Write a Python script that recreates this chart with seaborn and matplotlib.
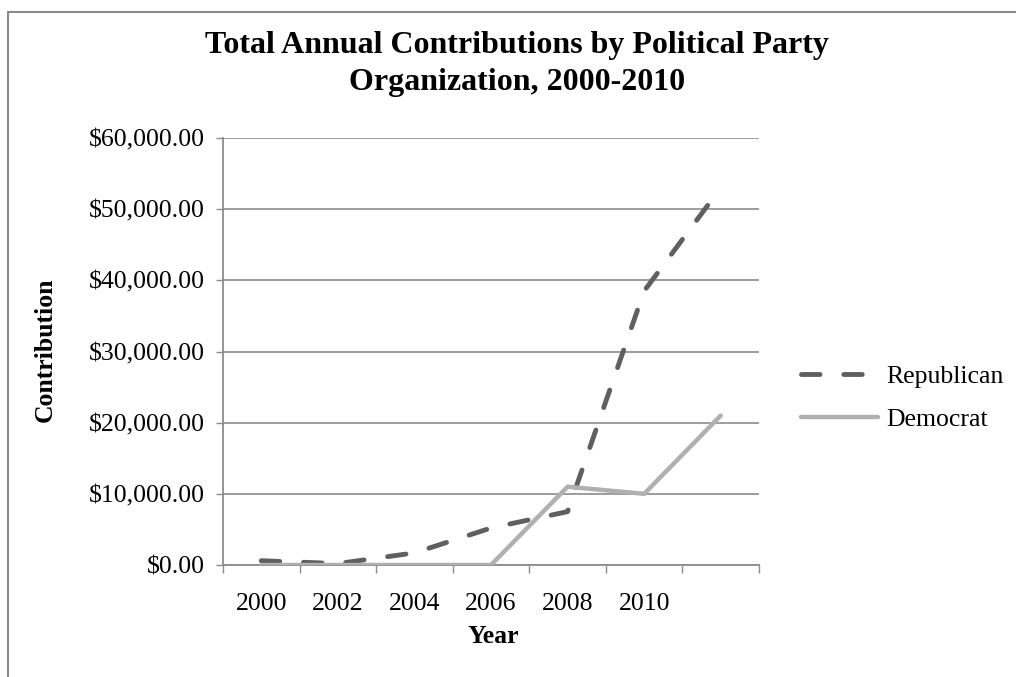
import matplotlib
matplotlib.use("Agg")
import matplotlib.pyplot as plt
import pandas as pd
import seaborn as sns
from matplotlib.lines import Line2D
from matplotlib.ticker import FixedLocator, FuncFormatter

# Data (7 categories, last one has no label)
year_labels = ['2000', '2002', '2004', '2006', '2008', '2010', '']
republican = [600, 200, 1700, 5200, 7500, 38500, 53000]
democrat = [0, 0, 0, 0, 11000, 10000, 21000]

df = pd.DataFrame({
    'pos': list(range(len(year_labels))) * 2,
    'Contribution': republican + democrat,
    'Party': ['Republican'] * len(year_labels) + ['Democrat'] * len(year_labels),
})

sns.set_theme(style='white')
plt.rcParams['font.family'] = ['Liberation Serif', 'DejaVu Serif']
plt.rcParams['text.color'] = 'black'

rep_color = '#5f5f5f'
dem_color = '#b0b0b0'
grid_color = '#8c8c8c'
fs = 18.5

fig = plt.figure(figsize=(10.16, 6.77), dpi=100)
ax = fig.add_axes([223 / 1016, 1 - 565 / 677, (759 - 223) / 1016, (565 - 138) / 677])

sns.lineplot(data=df[df.Party == 'Republican'], x='pos', y='Contribution', ax=ax,
             color=rep_color, linewidth=3.5, linestyle=(0, (3.8, 4.9)),
             dash_capstyle='round', solid_capstyle='round', zorder=3)
sns.lineplot(data=df[df.Party == 'Democrat'], x='pos', y='Contribution', ax=ax,
             color=dem_color, linewidth=3.2, solid_capstyle='round', zorder=4)

ax.set_xlim(-0.5, len(year_labels) - 0.5)
ax.set_ylim(0, 60000)
ax.set_yticks(range(0, 60001, 10000))
ax.yaxis.set_major_formatter(FuncFormatter(lambda v, p: '${:,.2f}'.format(v)))

# tick marks between categories, labels at category centers
ax.xaxis.set_major_locator(FixedLocator([i - 0.5 for i in range(len(year_labels) + 1)]))
ax.xaxis.set_minor_locator(FixedLocator(list(range(len(year_labels)))))
ax.set_xticklabels([])
ax.set_xticklabels(year_labels, minor=True)
ax.tick_params(axis='x', which='major', length=6, width=1, color=grid_color, direction='out')
ax.tick_params(axis='x', which='minor', length=0, pad=20, labelsize=fs, labelcolor='black')
ax.tick_params(axis='y', length=5, width=1, color=grid_color, direction='out', pad=8,
               labelsize=fs, labelcolor='black')
ax.tick_params(axis='both', bottom=True, left=True)

ax.grid(axis='y', color=grid_color, linewidth=1.2)
ax.set_axisbelow(True)
for s in ['top', 'right']:
    ax.spines[s].set_visible(False)
for s in ['left', 'bottom']:
    ax.spines[s].set_color(grid_color)
    ax.spines[s].set_linewidth(1.3)

ax.set_xlabel('Year', fontsize=fs, fontweight='bold', color='black')
ax.set_ylabel('Contribution', fontsize=fs, fontweight='bold', color='black')
ax.xaxis.set_label_coords(0.504, -0.14)
ax.yaxis.set_label_coords(-0.31, 0.503)

fig.text(517 / 1016, 1 - 64 / 677, 'Total Annual Contributions by Political Party\nOrganization, 2000-2010',
         ha='center', va='center', fontsize=23, fontweight='bold', linespacing=1.35)

handles = [
    Line2D([], [], color=rep_color, linewidth=3.5, linestyle=(0, (3.8, 4.9)), dash_capstyle='round'),
    Line2D([], [], color=dem_color, linewidth=3.2, solid_capstyle='round'),
]
fig.legend(handles, ['Republican', 'Democrat'], loc='center left',
           bbox_to_anchor=(778 / 1016, 1 - 398 / 677), frameon=False, fontsize=fs,
           handlelength=3.0, handletextpad=0.3, labelspacing=0.75)

# chart-area border (top and left visible)
fig.add_artist(Line2D([8 / 1016, 8 / 1016], [0, 1 - 12 / 677], transform=fig.transFigure,
                      color='#8a8a8a', linewidth=1.5))
fig.add_artist(Line2D([8 / 1016, 1], [1 - 12 / 677, 1 - 12 / 677], transform=fig.transFigure,
                      color='#8a8a8a', linewidth=1.5))

fig.savefig('out.png', dpi=100)
